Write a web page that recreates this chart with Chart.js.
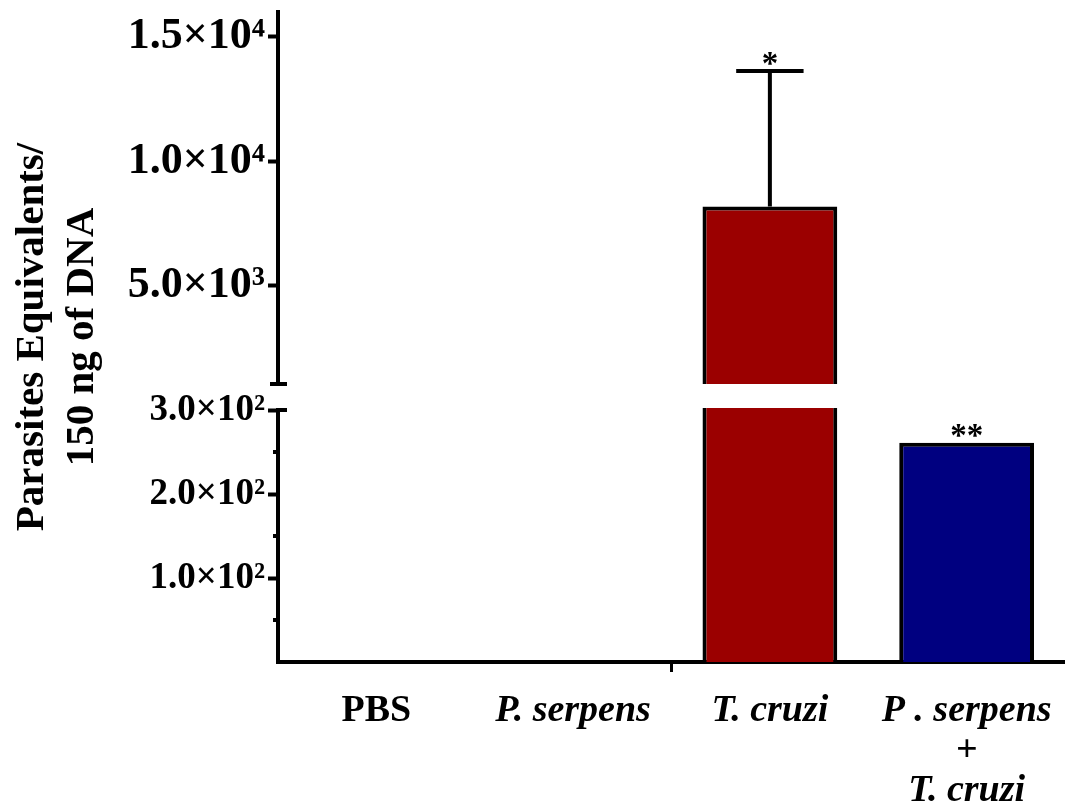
<!DOCTYPE html>
<html>
<head>
<meta charset="utf-8">
<script src="https://cdn.jsdelivr.net/npm/chart.js@4/dist/chart.umd.min.js"></script>
<style>
  html, body { margin: 0; padding: 0; background: #fff; }
  #wrap { width: 1065px; height: 809px; }
</style>
</head>
<body>
<div id="wrap"><canvas id="chart"></canvas></div>
<script>
// Parasite load per group
const groups = ['PBS', 'P. serpens', 'T. cruzi', ['P . serpens', '+', 'T. cruzi']];
const means = [0, 0, 8185, 261];
const errors = [0, 0, 5445, 0];
const marks = ['', '', '*', '**'];
const barColors = ['#9b0000', '#9b0000', '#9b0000', '#000080'];

// y axis is broken: upper part in thousands, lower part in hundreds
const upperRange = [0, 16000];
const upperTicks = [5000, 10000, 15000];
const lowerRange = [0, 300];
const lowerTicks = [100, 200, 300];
const lowerMinor = [50, 150, 250];
const yTitle = ['Parasites Equivalents/', '150 ng of DNA'];

const serif = '"Liberation Serif", "Times New Roman", "DejaVu Serif", serif';
const SUP = '⁰¹²³⁴⁵⁶⁷⁸⁹';

function sci(v) {
    const e = Math.floor(Math.log10(v));
    return (v / Math.pow(10, e)).toFixed(1) + '×10' + SUP[e];
}

function yScale(range, ticks, weight, size) {
    return {
        type: 'linear',
        position: 'left',
        stack: 'y',
        stackWeight: weight,
        min: range[0],
        max: range[1],
        afterBuildTicks: s => { s.ticks = ticks.map(v => ({ value: v })); },
        afterFit: s => { s.width = 278; s.paddingTop = 0; s.paddingBottom = 0; },
        grid: { drawOnChartArea: false, tickLength: 10, tickWidth: 4, tickColor: '#000' },
        border: { color: '#000', width: 4 },
        ticks: {
            color: '#000',
            padding: 3,
            font: { family: serif, size: size, weight: 'bold' },
            callback: v => sci(v)
        }
    };
}

const barStyle = {
    backgroundColor: barColors,
    borderColor: '#000',
    borderWidth: 4,
    borderSkipped: 'start',
    grouped: false,
    barPercentage: 0.685,
    categoryPercentage: 1
};

const brokenAxis = {
    id: 'brokenAxis',
    // keep each bar inside its own part of the axis
    beforeDatasetDraw(chart, args) {
        const s = chart.scales[args.meta.yAxisID];
        const a = chart.chartArea;
        chart.ctx.save();
        chart.ctx.beginPath();
        chart.ctx.rect(a.left, s.top, a.right - a.left, s.bottom - s.top);
        chart.ctx.clip();
    },
    afterDatasetDraw(chart) {
        chart.ctx.restore();
    },
    afterDatasetsDraw(chart) {
        const { ctx, chartArea: a, scales } = chart;
        const up = scales.yUpper, low = scales.yLower;
        const axisX = a.left;
        const gapTop = low.top - 26;

        ctx.save();
        ctx.fillStyle = '#fff';
        ctx.fillRect(axisX - 6, gapTop, a.right - axisX + 6, 24);

        ctx.strokeStyle = '#000';
        ctx.lineWidth = 4;
        ctx.beginPath();
        ctx.moveTo(axisX - 8, gapTop); ctx.lineTo(axisX + 9, gapTop);
        ctx.moveTo(axisX, low.top); ctx.lineTo(axisX + 9, low.top);
        lowerMinor.forEach(v => {
            const y = low.getPixelForValue(v);
            ctx.moveTo(axisX - 5, y); ctx.lineTo(axisX, y);
        });
        ctx.stroke();

        // error bars and significance marks
        const upMeta = chart.getDatasetMeta(0), lowMeta = chart.getDatasetMeta(1);
        means.forEach((m, i) => {
            const onUpper = m > lowerRange[1];
            const s = onUpper ? up : low;
            const bar = (onUpper ? upMeta : lowMeta).data[i];
            let top = bar.y;
            if (errors[i] > 0) {
                const yErr = s.getPixelForValue(m + errors[i]);
                ctx.lineWidth = 4;
                ctx.beginPath();
                ctx.moveTo(bar.x, bar.y); ctx.lineTo(bar.x, yErr);
                ctx.moveTo(bar.x - bar.width / 4, yErr); ctx.lineTo(bar.x + bar.width / 4, yErr);
                ctx.stroke();
                top = yErr;
            }
            if (marks[i]) {
                ctx.fillStyle = '#000';
                ctx.font = 'bold 33px ' + serif;
                ctx.textAlign = 'center';
                ctx.textBaseline = 'alphabetic';
                ctx.fillText(marks[i], bar.x, top + 3);
            }
        });
        ctx.restore();
    },
    afterDraw(chart) {
        const { ctx, chartArea: a } = chart;
        const midY = (a.top + a.bottom) / 2;
        ctx.save();
        ctx.translate(43, midY);
        ctx.rotate(-Math.PI / 2);
        ctx.fillStyle = '#000';
        ctx.font = 'bold 41px ' + serif;
        ctx.textAlign = 'center';
        ctx.textBaseline = 'alphabetic';
        ctx.fillText(yTitle[0], 0, 0);
        ctx.fillText(yTitle[1], 0, 50);
        ctx.restore();
    }
};

new Chart(document.getElementById('chart'), {
    type: 'bar',
    data: {
        labels: groups,
        datasets: [
            Object.assign({ data: means.map(v => v > lowerRange[1] ? v : null), yAxisID: 'yUpper' }, barStyle),
            Object.assign({ data: means, yAxisID: 'yLower' }, barStyle)
        ]
    },
    options: {
        responsive: true,
        maintainAspectRatio: false,
        animation: false,
        layout: { padding: { top: 12, left: 0, right: 0, bottom: 0 } },
        plugins: { legend: { display: false }, tooltip: { enabled: false } },
        scales: {
            x: {
                type: 'category',
                offset: true,
                afterFit: s => { s.height = 147; s.paddingLeft = 0; s.paddingRight = 0; },
                grid: {
                    offset: true,
                    drawOnChartArea: false,
                    tickLength: 10,
                    tickWidth: 3,
                    tickColor: c => c.index === 2 ? '#000' : 'rgba(0,0,0,0)'
                },
                border: { color: '#000', width: 4 },
                ticks: {
                    color: '#000',
                    padding: 19,
                    maxRotation: 0,
                    autoSkip: false,
                    font: c => ({
                        family: serif, size: 38, weight: 'bold',
                        style: c.index === 0 ? 'normal' : 'italic', lineHeight: 1.05
                    })
                }
            },
            yLower: yScale(lowerRange, lowerTicks, 252, 37),
            yUpper: yScale(upperRange, upperTicks, 398, 44)
        }
    },
    plugins: [brokenAxis]
});
</script>
</body>
</html>
